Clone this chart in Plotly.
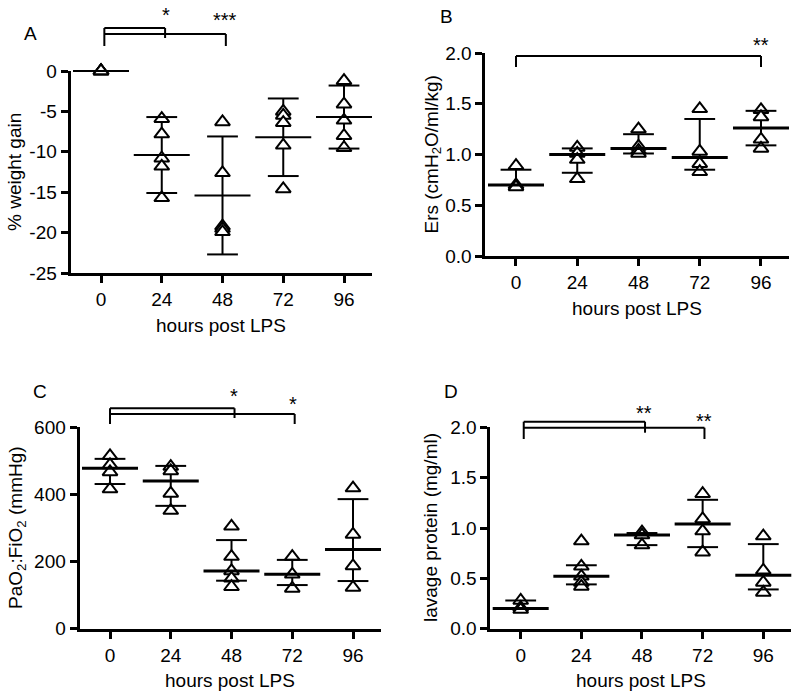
import plotly.graph_objects as go

W, H = 800, 698
hours = ["0", "24", "48", "72", "96"]

# ---- Panel A: % weight gain ----
a_points = [[0, 0, 0, 0, 0],
            [-5.9, -7.8, -10.8, -11.8, -15.7],
            [-6.3, -12.6, -19.2, -19.5, -19.9],
            [-5.0, -5.5, -6.4, -9.2, -14.6],
            [-1.2, -4.1, -6.1, -8.0, -9.5]]
a_center = [0, -10.4, -15.4, -8.2, -5.7]
a_upper = [0, -5.7, -8.1, -3.4, -1.8]
a_lower = [0, -15.1, -22.7, -13.0, -9.6]
a_yticks = [0, -5, -10, -15, -20, -25]
a_yticktext = ["0", "-5", "-10", "-15", "-20", "-25"]

# ---- Panel B: Ers ----
b_points = [[0.89, 0.70, 0.68],
            [1.07, 1.01, 0.95, 0.76],
            [1.25, 1.08, 1.04, 1.01],
            [1.45, 1.03, 0.91, 0.83],
            [1.44, 1.37, 1.15, 1.06]]
b_center = [0.70, 1.00, 1.06, 0.97, 1.26]
b_upper = [0.85, 1.06, 1.20, 1.35, 1.43]
b_lower = [0.70, 0.82, 1.01, 0.85, 1.09]
b_yticks = [0.0, 0.5, 1.0, 1.5, 2.0]

# ---- Panel C: PaO2:FiO2 ----
c_points = [[515, 488, 467, 416],
            [483, 470, 403, 352],
            [305, 215, 172, 150, 125],
            [215, 162, 120],
            [419, 281, 187, 123]]
c_center = [478, 440, 172, 162, 236]
c_upper = [506, 485, 264, 205, 386]
c_lower = [431, 366, 143, 130, 142]
c_yticks = [0, 200, 400, 600]

# ---- Panel D: lavage protein ----
d_points = [[0.28, 0.21, 0.19],
            [0.87, 0.62, 0.52, 0.46, 0.42],
            [0.96, 0.93, 0.83],
            [1.34, 1.09, 0.97, 0.76],
            [0.92, 0.58, 0.46, 0.36]]
d_center = [0.20, 0.52, 0.93, 1.04, 0.53]
d_upper = [0.28, 0.63, 0.95, 1.28, 0.84]
d_lower = [0.20, 0.44, 0.83, 0.81, 0.39]
d_yticks = [0.0, 0.5, 1.0, 1.5, 2.0]

FONT = "Arial, Liberation Sans, sans-serif"
FS = 19


def px2x(p):
    return p / W


def px2y(p):
    return 1 - p / H


# panel geometry in pixels: x of first/last category, y of top/bottom of axis
panels = {
    "A": dict(ax="", x0=101, x4=344, ytop=71, ybot=273, yr=[-25, 0]),
    "B": dict(ax="2", x0=516, x4=761, ytop=53, ybot=256, yr=[0, 2.0]),
    "C": dict(ax="3", x0=110, x4=353, ytop=427.3, ybot=628.7, yr=[0, 600]),
    "D": dict(ax="4", x0=520.7, x4=763.3, ytop=427.3, ybot=628.7, yr=[0, 2.0]),
}
XR = [-0.5, 4.46]

fig = go.Figure()


def add_panel(key, points, center, upper, lower, mean_w):
    p = panels[key]
    xa = "x" + p["ax"]
    ya = "y" + p["ax"]
    xs = list(range(len(hours)))
    # vertical error lines (behind points)
    fig.add_trace(go.Scatter(
        x=xs, y=center, mode="markers", xaxis=xa, yaxis=ya,
        marker=dict(size=1, color="rgba(0,0,0,0)"),
        error_y=dict(type="data", symmetric=False,
                     array=[u - c for u, c in zip(upper, center)],
                     arrayminus=[c - l for c, l in zip(center, lower)],
                     color="black", thickness=2, width=0),
        cliponaxis=False, hoverinfo="skip"))
    # individual points
    px, py = [], []
    for i, vals in enumerate(points):
        for v in vals:
            px.append(i)
            py.append(v)
    fig.add_trace(go.Scatter(
        x=px, y=py, mode="markers", xaxis=xa, yaxis=ya,
        marker=dict(symbol="triangle-up", size=13, color="white",
                    line=dict(color="black", width=2)),
        cliponaxis=False))
    # caps
    fig.add_trace(go.Scatter(
        x=xs + xs, y=upper + lower, mode="markers", xaxis=xa, yaxis=ya,
        marker=dict(symbol="line-ew", size=22, color="black",
                    line=dict(color="black", width=2)),
        cliponaxis=False))
    # mean / median line
    fig.add_trace(go.Scatter(
        x=xs, y=center, mode="markers", xaxis=xa, yaxis=ya,
        marker=dict(symbol="line-ew", size=40, color="black",
                    line=dict(color="black", width=mean_w)),
        cliponaxis=False))


add_panel("A", a_points, a_center, a_upper, a_lower, 2)
add_panel("B", b_points, b_center, b_upper, b_lower, 3)
add_panel("C", c_points, c_center, c_upper, c_lower, 3)
add_panel("D", d_points, d_center, d_upper, d_lower, 3)

axis_common = dict(showline=True, linewidth=3, linecolor="black",
                   ticks="outside", ticklen=7, tickwidth=3, tickcolor="black",
                   showgrid=False, zeroline=False, automargin=False,
                   tickfont=dict(family=FONT, size=FS, color="black"))

layout = dict(template="none", autosize=False,
              width=W, height=H, margin=dict(l=0, r=0, t=0, b=0, pad=0),
              paper_bgcolor="white", plot_bgcolor="white", showlegend=False,
              font=dict(family=FONT, size=FS, color="black"))

yticks = {"A": (a_yticks, a_yticktext),
          "B": (b_yticks, [f"{v:.1f}" for v in b_yticks]),
          "C": (c_yticks, [str(v) for v in c_yticks]),
          "D": (d_yticks, [f"{v:.1f}" for v in d_yticks])}

for key, p in panels.items():
    sp = (p["x4"] - p["x0"]) / 4
    left = p["x0"] + XR[0] * sp
    right = p["x4"] + (XR[1] - 4) * sp
    xname = "xaxis" + p["ax"]
    yname = "yaxis" + p["ax"]
    layout[xname] = dict(axis_common, domain=[px2x(left), px2x(right)],
                         range=XR, tickvals=list(range(len(hours))),
                         ticktext=hours, anchor="y" + p["ax"])
    tv, tt = yticks[key]
    layout[yname] = dict(axis_common, domain=[px2y(p["ybot"]), px2y(p["ytop"])],
                         range=p["yr"], tickvals=tv, ticktext=tt,
                         anchor="x" + p["ax"])

fig.update_layout(**layout)

# ---- annotations: panel letters, axis titles, significance stars ----
ann = []


def text(x, y, s, angle=0, size=FS):
    ann.append(dict(x=px2x(x), y=px2y(y), xref="paper", yref="paper",
                    text=s, showarrow=False, textangle=angle,
                    xanchor="center", yanchor="middle",
                    font=dict(family=FONT, size=size, color="black")))


text(30, 33, "A")
text(446, 17, "B")
text(40, 391, "C")
text(451, 391, "D")

ytitles = {"A": (15, "% weight gain"),
           "B": (432, "Ers (cmH<sub>2</sub>O/ml/kg)"),
           "C": (17, "PaO<sub>2</sub>:FiO<sub>2</sub> (mmHg)"),
           "D": (430, "lavage protein (mg/ml)")}
xtitle_y = {"A": 326, "B": 308, "C": 680, "D": 680}
for key, p in panels.items():
    sp = (p["x4"] - p["x0"]) / 4
    left = p["x0"] + XR[0] * sp
    right = p["x4"] + (XR[1] - 4) * sp
    text((left + right) / 2, xtitle_y[key], "hours post LPS")
    tx, tt = ytitles[key]
    text(tx, (p["ytop"] + p["ybot"]) / 2, tt, angle=-90)

# stars (center of glyph + offset because asterisk sits high)
STAR_OFF = 3
text(166, 12 + STAR_OFF, "*", size=20)
text(225, 17 + STAR_OFF, "***", size=20)
text(761, 42 + STAR_OFF, "**", size=20)
text(234, 393 + STAR_OFF, "*", size=20)
text(293, 401 + STAR_OFF, "*", size=20)
text(644, 410 + STAR_OFF, "**", size=20)
text(704, 418 + STAR_OFF, "**", size=20)

fig.update_layout(annotations=ann)

# ---- significance brackets (x in category units, y in paper) ----
shapes = []


def seg(xa, x0, y0, x1, y1):
    shapes.append(dict(type="line", xref=xa, yref="paper",
                       x0=x0, x1=x1, y0=px2y(y0), y1=px2y(y1),
                       line=dict(color="black", width=2)))


# A: 0-24 (upper), 0-48 (lower)
s = 0.055
seg("x", 0 + s, 28, 1 + s, 28)
seg("x", 0 + s, 34, 2 + s, 34)
seg("x", 0 + s, 28, 0 + s, 46)
seg("x", 1 + s, 28, 1 + s, 38)
seg("x", 2 + s, 34, 2 + s, 46)
# B: 0-96
seg("x2", 0, 56, 4, 56)
seg("x2", 0, 56, 0, 67)
seg("x2", 4, 56, 4, 67)
# C: 0-48 (upper), 0-72 (lower)
seg("x3", 0, 408.3, 2.05, 408.3)
seg("x3", 0, 414, 3.04, 414)
seg("x3", 0, 408.3, 0, 424)
seg("x3", 2.05, 408.3, 2.05, 418)
seg("x3", 3.04, 414, 3.04, 424)
# D: 0-48 (upper), 0-72 (lower)
seg("x4", 0.05, 421.7, 2.05, 421.7)
seg("x4", 0.05, 427.7, 3.03, 427.7)
seg("x4", 0.05, 421.7, 0.05, 439)
seg("x4", 2.05, 421.7, 2.05, 432.7)
seg("x4", 3.03, 427.7, 3.03, 439)

fig.update_layout(shapes=shapes)

fig.write_html("out.html", config={"displayModeBar": False},
               post_script="document.body.style.margin='0';")
